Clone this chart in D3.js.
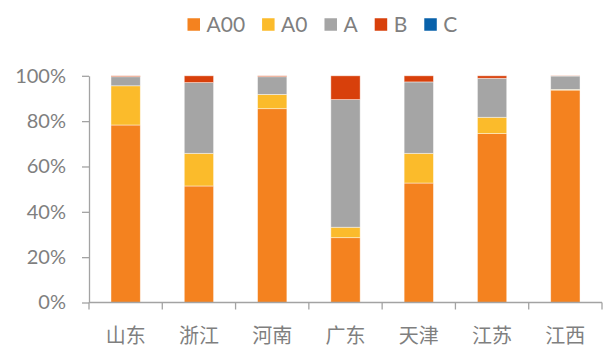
<!DOCTYPE html>
<html>
<head>
<meta charset="utf-8">
<script src="https://cdn.jsdelivr.net/npm/d3@7"></script>
<style>
  html, body { margin: 0; padding: 0; background: #fff; }
  svg { display: block; }
</style>
</head>
<body>
<svg id="chart" width="603" height="347"></svg>
<script>
const categories = ["山东", "浙江", "河南", "广东", "天津", "江苏", "江西"];
const seriesNames = ["A00", "A0", "A", "B", "C"];
const A00 = [78.3, 51.4, 85.5, 28.6, 52.7, 74.5, 93.7];
const A0  = [17.3, 14.4,  6.3,  4.6, 13.1,  7.2,  0.3];
const A   = [ 4.0, 31.2,  7.8, 56.3, 31.5, 17.2,  5.9];
const B   = [ 0.4,  3.0,  0.4, 10.5,  2.7,  1.1,  0.1];
const C   = [ 0.0,  0.0,  0.0,  0.0,  0.0,  0.0,  0.0];
const yTicks = [0, 20, 40, 60, 80, 100];
const colors = ["#F4821F", "#FBBB2B", "#A5A5A5", "#D8400B", "#0861AA"];

const seriesValues = [A00, A0, A, B, C];
const rows = categories.map((c, i) => {
  const r = { cat: c };
  seriesNames.forEach((s, j) => r[s] = seriesValues[j][i]);
  return r;
});

const svg = d3.select("#chart");
const plotLeft = 89, plotRight = 602, plotTop = 75.8, plotBottom = 302.5;
const textColor = "#7F7F7F", axisColor = "#A3A3A3";
const latin = "Lato, 'Open Sans', sans-serif";
const cjk = "'Noto Sans CJK SC', sans-serif";

const xBand = d3.scaleBand().domain(categories).range([plotLeft, plotRight]).paddingInner(0.6).paddingOuter(0.3);
const xCells = d3.scaleBand().domain(categories).range([plotLeft, plotRight]).padding(0);
const y = d3.scaleLinear().domain([0, 100]).range([plotBottom, plotTop]);
const color = d3.scaleOrdinal().domain(seriesNames).range(colors);

const stacked = d3.stack().keys(seriesNames)(rows);

svg.append("g").selectAll("g").data(stacked).join("g")
  .attr("fill", d => color(d.key))
  .selectAll("rect").data(d => d).join("rect")
  .attr("x", d => xBand(d.data.cat))
  .attr("width", xBand.bandwidth())
  .attr("y", d => y(d[1]))
  .attr("height", d => Math.max(0, y(d[0]) - y(d[1])))
  .attr("stroke", "#ffffff")
  .attr("stroke-opacity", 0.55)
  .attr("stroke-width", 0.8);

// Y axis
const yAxis = svg.append("g").attr("transform", `translate(${plotLeft},0)`)
  .call(d3.axisLeft(y).tickValues(yTicks).tickFormat(d => d + "%").tickSize(7).tickPadding(16).tickSizeOuter(0));
yAxis.selectAll("path, line").attr("stroke", axisColor).attr("stroke-width", 1.3);
yAxis.selectAll("text").attr("fill", textColor).attr("font-size", 20).attr("font-family", latin);

// X axis with ticks at category boundaries
const xAxisG = svg.append("g").attr("transform", `translate(0,${plotBottom})`);
xAxisG.append("line").attr("x1", plotLeft).attr("x2", plotRight).attr("stroke", axisColor).attr("stroke-width", 1.3);
const bounds = categories.map(c => xCells(c)).concat([xCells(categories[categories.length - 1]) + xCells.bandwidth()]);
xAxisG.selectAll("line.tk").data(bounds).join("line").attr("class", "tk")
  .attr("x1", d => d).attr("x2", d => d).attr("y1", 0).attr("y2", 7)
  .attr("stroke", axisColor).attr("stroke-width", 1.3);
xAxisG.selectAll("text").data(categories).join("text")
  .attr("x", d => xCells(d) + xCells.bandwidth() / 2)
  .attr("y", 40)
  .attr("text-anchor", "middle")
  .attr("fill", textColor)
  .attr("font-size", 20)
  .attr("font-family", cjk)
  .text(d => d);

// Legend
const legend = svg.append("g");
let lx = 187.5;
const ly = 24.5, sq = 12.5;
seriesNames.forEach(s => {
  const g = legend.append("g");
  g.append("rect").attr("x", lx).attr("y", ly - sq / 2).attr("width", sq).attr("height", sq).attr("fill", color(s));
  const t = g.append("text").attr("x", lx + sq + 6.5).attr("y", ly).attr("dy", "0.36em")
    .attr("fill", textColor).attr("font-size", 21).attr("font-family", latin).text(s);
  lx += sq + 6.5 + t.node().getComputedTextLength() + 17;
});
</script>
</body>
</html>
